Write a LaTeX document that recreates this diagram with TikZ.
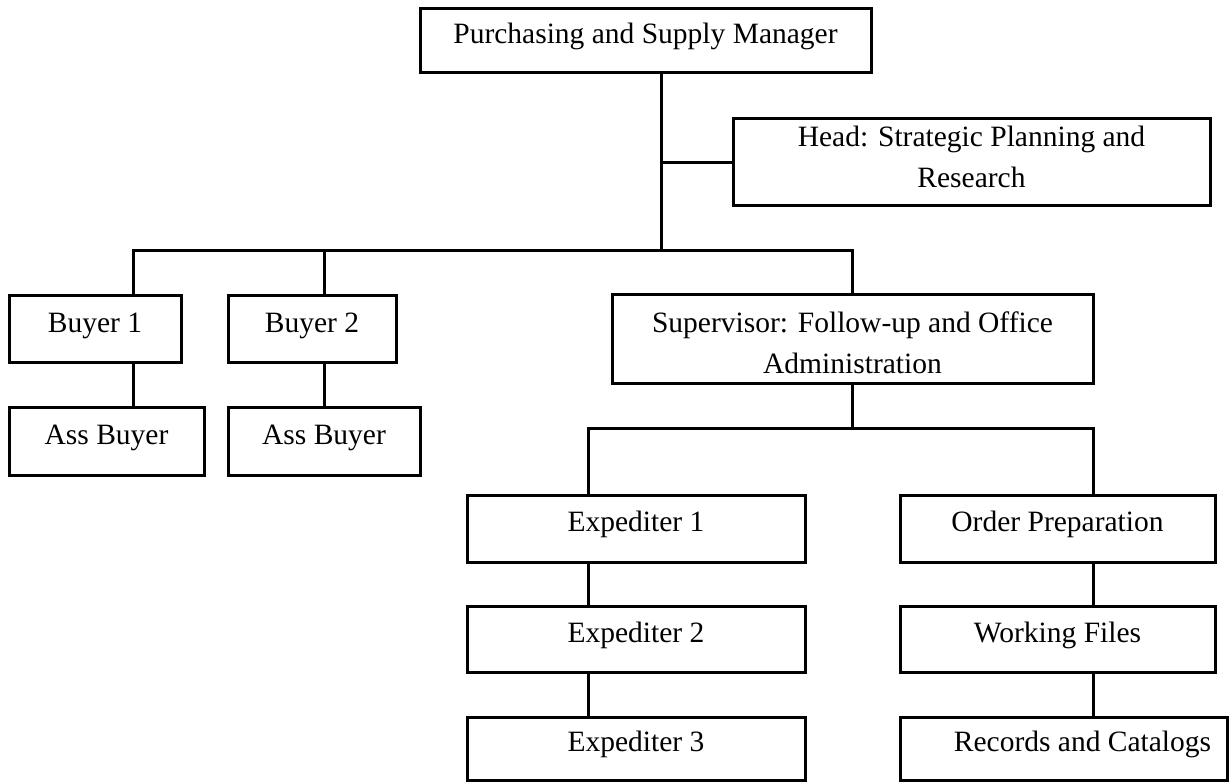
\documentclass[tikz,border=0pt]{standalone}
\usepackage{fontspec}
\setmainfont{Liberation Serif}
% two centred lines whose declared height/depth set where they sit in the box
\newcommand{\twolines}[4]{\raisebox{0pt}[#1][#2]{\begin{tabular}[t]{@{}c@{}}#3\\#4\end{tabular}}}
\begin{document}
\begin{tikzpicture}[x=1pt,y=-1pt,
  every node/.style={font=\fontsize{29.5}{41}\selectfont},
  orgbox/.style 2 args={draw, line width=3pt, inner sep=0pt, align=center,
    minimum width=#1, minimum height=#2},
  oneline/.style={text height=18pt, text depth=12pt},
  conn/.style={line width=3pt}
]
\useasboundingbox (0,0) rectangle (1230,783);

% boxes
\node[orgbox={451}{64}, oneline] (top) at (645.5,41) {Purchasing and Supply Manager};
\node[orgbox={477}{87}] (head) at (971.5,162.5)
  {\twolines{20pt}{51pt}{Head: Strategic Planning and}{Research}};
\node[orgbox={172}{66}, oneline] (b1) at (95,329) {Buyer 1};
\node[orgbox={168}{66}, oneline] (b2) at (312,329) {Buyer 2};
\node[orgbox={195}{68}, oneline] (ab1) at (106.5,441) {Ass Buyer};
\node[orgbox={192}{68}, oneline] (ab2) at (324,441) {Ass Buyer};
\node[orgbox={481}{88}] (sup) at (852.5,339)
  {\twolines{20pt}{34pt}{Supervisor: Follow-up and Office}{Administration}};
\node[orgbox={338}{67}, oneline] (e1) at (636,528.5) {Expediter 1};
\node[orgbox={338}{66}, oneline] (e2) at (636,639) {Expediter 2};
\node[orgbox={338}{63}, oneline] (e3) at (636,748.5) {Expediter 3};
\node[orgbox={315}{67}, oneline] (o1) at (1057.5,528.5) {Order Preparation};
\node[orgbox={315}{66}, oneline] (o2) at (1057.5,639) {Working Files};
\node[orgbox={327}{63}, oneline] (o3) at (1063.5,748.5) {\hspace*{38pt}Records and Catalogs};

% junction points
\coordinate (jm) at (661,251);
\coordinate (jb1) at (133,251);
\coordinate (jb2) at (324,251);
\coordinate (js) at (852.5,251);
\coordinate (jl) at (852.5,428);
\coordinate (je) at (588,428);
\coordinate (jo) at (1093,428);

% connectors
\draw[conn] (top.south -| jm) -- (jm);
\draw[conn] (head.west) -- (head.west -| jm);
\draw[conn] (b1.north -| jb1) -- (jb1) -- (js) -- (sup.north);
\draw[conn] (jb2) -- (b2.north -| jb2);
\draw[conn] (b1.south -| jb1) -- (ab1.north -| jb1);
\draw[conn] (b2.south -| jb2) -- (ab2.north -| jb2);
\draw[conn] (sup.south) -- (jl);
\draw[conn] (e1.north -| je) -- (je) -- (jo) -- (o1.north -| jo);
\draw[conn] (e1.south -| je) -- (e2.north -| je);
\draw[conn] (e2.south -| je) -- (e3.north -| je);
\draw[conn] (o1.south -| jo) -- (o2.north -| jo);
\draw[conn] (o2.south -| jo) -- (o3.north -| jo);
\end{tikzpicture}
\end{document}
